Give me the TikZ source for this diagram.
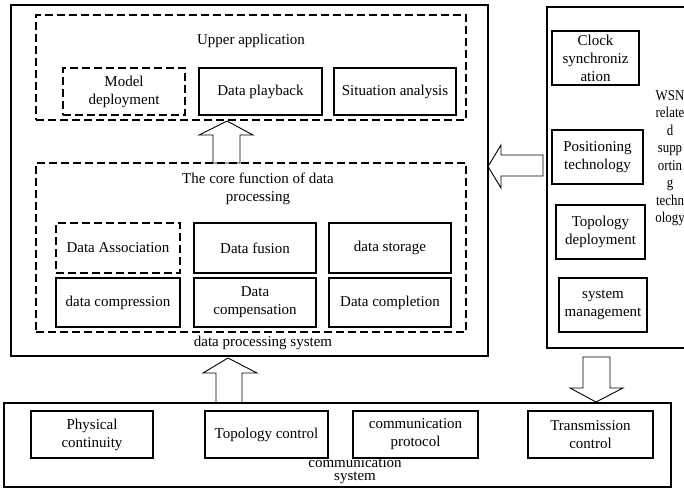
\documentclass[tikz,border=0pt]{standalone}
\usepackage{fontspec}
\setmainfont{Liberation Serif}
\begin{document}
\begin{tikzpicture}[x=1pt,y=-1pt,
  every node/.style={font=\fontsize{15}{18}\selectfont, align=center, inner sep=0pt},
  box/.style={draw, line width=1.3pt, rectangle},
  dbox/.style={draw, line width=1.3pt, rectangle, dash pattern=on 8pt off 4pt},
  frame/.style={draw, line width=1.1pt, rectangle},
  harrow/.style={draw, line width=0.9pt, line join=miter}]
\useasboundingbox (0,0) rectangle (684,488);
\clip (0,0) rectangle (684,488);

% outer frames
\node[frame, minimum width=477pt, minimum height=351pt] (dps) at (249.5,180.5) {};
\node[frame, minimum width=153pt, minimum height=341pt] (wsn) at (623.5,177.5) {};
\node[frame, minimum width=667pt, minimum height=84pt] (comm) at (337.5,445) {};

% upper application
\node[dbox, minimum width=430pt, minimum height=105pt] (upper) at (251,67.5) {};
\node (uppert) at (251,41) {Upper application};
\node[dbox, minimum width=122pt, minimum height=47pt] (md) at (124,91.5) {Model\\deployment};
\node[box, minimum width=123pt, minimum height=47pt] (dp) at (260.5,91.5) {Data playback};
\node[box, minimum width=122pt, minimum height=47pt] (sa) at (395,91.5) {Situation analysis};

% core function
\node[dbox, minimum width=430pt, minimum height=169pt] (core) at (251,247.5) {};
\node (coret) at (258,189) {The core function of data\\processing};
\node[dbox, minimum width=124pt, minimum height=50pt] (da) at (118,248) {Data Association};
\node[box, minimum width=122pt, minimum height=50pt] (df) at (255,248) {Data fusion};
\node[box, minimum width=122pt, minimum height=50pt] (ds) at (390,248) {data storage};
\node[box, minimum width=124pt, minimum height=49pt] (dc) at (118,302.5) {data compression};
\node[box, minimum width=122pt, minimum height=49pt] (dcp) at (255,302.5) {Data\\compensation};
\node[box, minimum width=122pt, minimum height=49pt] (dcl) at (390,302.5) {Data completion};
\node (dpst) at (263,343) {data processing system};

% WSN
\node[box, minimum width=87pt, minimum height=54pt] (cs) at (595.5,58) {Clock\\synchroniz\\ation};
\node[box, minimum width=91pt, minimum height=54pt] (pt) at (597.5,157) {Positioning\\technology};
\node[box, minimum width=89pt, minimum height=54pt] (td) at (600.5,232) {Topology\\deployment};
\node[box, minimum width=88pt, minimum height=54pt] (sm) at (603,305) {system\\management};
\node (wsnt) at (670,158) {\scalebox{0.86}[1]{\fontsize{15}{17.5}\selectfont\begin{tabular}{@{}c@{}}WSN\\relate\\d\\supp\\ortin\\g\\techn\\ology\end{tabular}}};

% communication
\node[box, minimum width=122pt, minimum height=47pt] (pc) at (92,434.5) {Physical\\continuity};
\node[box, minimum width=123pt, minimum height=47pt] (tc) at (266.5,434.5) {Topology control};
\node[box, minimum width=125pt, minimum height=47pt] (cp) at (415.5,434.5) {communication\\protocol};
\node[box, minimum width=125pt, minimum height=47pt] (trc) at (590.5,434.5) {Transmission\\control};
\node[font=\fontsize{15}{13}\selectfont] (commt) at (355,471) {communication\\system};

% hollow block arrows
\draw[harrow] (213,163) -- (213,135) -- (199,135) -- (227,121) -- (253,135) -- (240,135) -- (240,163) -- cycle;
\draw[harrow] (216,403) -- (216,373) -- (203,373) -- (228,358) -- (257,373) -- (242,373) -- (242,403) -- cycle;
\draw[harrow] (583,357) -- (583,388) -- (570,388) -- (596,402) -- (623,388) -- (610,388) -- (610,357) -- cycle;
\draw[harrow] (543,155) -- (501,155) -- (501,145) -- (488,166.5) -- (501,188) -- (501,176) -- (543,176) -- cycle;
\end{tikzpicture}
\end{document}
